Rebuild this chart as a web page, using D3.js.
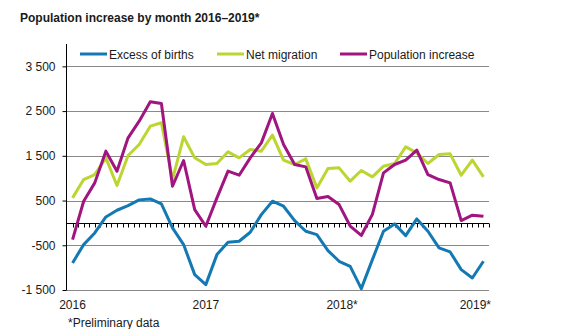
<!DOCTYPE html>
<html>
<head>
<meta charset="utf-8">
<script src="https://cdn.jsdelivr.net/npm/d3@7"></script>
<style>
  body { margin: 0; background: #fff; }
  svg { font-family: "Liberation Sans", Arial, sans-serif; }
</style>
</head>
<body>
<svg id="chart" width="585" height="329"></svg>
<script>
// months Jan 2016 .. Feb 2019
var months = [];
[2016, 2017, 2018, 2019].forEach(function(yr) {
  for (var m = 1; m <= 12; m++) {
    if (yr === 2019 && m > 2) break;
    months.push(yr + 'M' + (m < 10 ? '0' + m : m));
  }
});

var excessOfBirths = [
  -895, -485, -224, 134, 283, 388, 515, 537, 425, -112, -485, -1156,
  -1380, -709, -433, -410, -209, 186, 485, 373, 52, -187, -261, -619,
  -858, -970, -1470, -821, -187, -22, -284, 90, -187, -560, -649, -1044,
  -1231, -858
];
var netMigration = [
  560, 970, 1082, 1455, 836, 1507, 1753, 2163, 2238, 970, 1925, 1455,
  1306, 1328, 1589, 1455, 1641, 1604, 1962, 1403, 1306, 1432, 783, 1216,
  1231, 933, 1171, 1030, 1268, 1328, 1701, 1567, 1328, 1530, 1544, 1067,
  1403, 1030
];
var populationIncrease = [
  -373, 485, 895, 1604, 1157, 1903, 2275, 2708, 2670, 820, 1395, 298,
  -75, 560, 1157, 1067, 1455, 1790, 2447, 1753, 1306, 1253, 545, 590,
  410, -70, -280, 190, 1119, 1306, 1403, 1626, 1082, 970, 895, 52,
  172, 149
];

var yTicks = [-1500, -500, 500, 1500, 2500, 3500];
var yearLabels = [
  { month: '2016M01', label: '2016' },
  { month: '2017M01', label: '2017' },
  { month: '2018M01', label: '2018*' },
  { month: '2019M01', label: '2019*' }
];

var series = [
  { name: 'Excess of births', values: excessOfBirths, color: '#1479b3' },
  { name: 'Net migration', values: netMigration, color: '#bcd531' },
  { name: 'Population increase', values: populationIncrease, color: '#a0157f' }
];

var svg = d3.select('#chart');
var plotLeft = 67, plotRight = 489, plotTop = 44, plotBottom = 290;

var x = d3.scaleBand().domain(months).range([plotLeft, plotRight]);
var bw = x.bandwidth();
var cx = function(m) { return x(m) + bw / 2; };
var y = d3.scaleLinear().domain([-1500, 4000]).range([plotBottom, plotTop]);

var fmt = d3.formatLocale({ decimal: ',', thousands: '\u00a0', grouping: [3], currency: ['', ''], minus: '-' }).format(',d');

// title
svg.append('text')
  .attr('x', 20).attr('y', 22)
  .style('font-size', '12px').style('font-weight', 'bold').style('fill', '#1a1a1a')
  .text('Population increase by month 2016\u20132019*');

// gridlines
svg.append('g').selectAll('line').data(yTicks).enter().append('line')
  .attr('x1', plotLeft).attr('x2', plotRight)
  .attr('y1', function(d) { return Math.round(y(d)) + 0.5; })
  .attr('y2', function(d) { return Math.round(y(d)) + 0.5; })
  .style('stroke', '#8a8a8a').style('stroke-width', 1);

// y axis
var yAxis = d3.axisLeft(y).tickValues(yTicks).tickSize(4).tickFormat(fmt);
var gy = svg.append('g').attr('transform', 'translate(' + (plotLeft - 0.5) + ',0)').call(yAxis);
gy.select('.domain').attr('d', 'M0,' + plotTop + 'V' + (plotBottom + 0.5)).style('stroke', '#000');
gy.selectAll('.tick line').style('stroke', '#000');
gy.selectAll('.tick text').attr('x', -11).style('font-size', '12px').style('fill', '#1a1a1a')
  .style('font-family', '"Liberation Sans", Arial, sans-serif');

// zero line with month ticks
var y0 = Math.round(y(0)) + 0.5;
svg.append('line').attr('x1', plotLeft).attr('x2', plotRight).attr('y1', y0).attr('y2', y0)
  .style('stroke', '#000').style('stroke-width', 1);
var tickPos = [];
months.forEach(function(m) { tickPos.push(x(m) + bw / 2, x(m) + bw); });
svg.append('g').selectAll('line').data(tickPos).enter().append('line')
  .attr('x1', function(d) { return Math.round(d) + 0.5; })
  .attr('x2', function(d) { return Math.round(d) + 0.5; })
  .attr('y1', y0).attr('y2', y0 + 4)
  .style('stroke', '#000');

// year labels
svg.append('g').selectAll('text').data(yearLabels).enter().append('text')
  .attr('x', function(d) { return cx(d.month) + (d.label.length > 4 ? 3 : 0); })
  .attr('y', 309)
  .attr('text-anchor', 'middle')
  .style('font-size', '12px').style('fill', '#1a1a1a')
  .text(function(d) { return d.label; });

// lines
var line = d3.line()
  .x(function(d, i) { return cx(months[i]); })
  .y(function(d) { return y(d); });

svg.append('g').selectAll('path').data(series).enter().append('path')
  .attr('d', function(s) { return line(s.values); })
  .style('fill', 'none')
  .style('stroke', function(s) { return s.color; })
  .style('stroke-width', 3)
  .style('stroke-linejoin', 'round');

// legend
var legendX = [80, 217, 340];
var lg = svg.append('g').selectAll('g').data(series).enter().append('g')
  .attr('transform', function(d, i) { return 'translate(' + legendX[i] + ',54)'; });
lg.append('line').attr('x1', 0).attr('x2', 27).attr('y1', 0).attr('y2', 0)
  .style('stroke', function(d) { return d.color; }).style('stroke-width', 3);
lg.append('text').attr('x', 29).attr('y', 4.5)
  .style('font-size', '12px').style('fill', '#1a1a1a')
  .text(function(d) { return d.name; });

// footnote
svg.append('text').attr('x', 68).attr('y', 327)
  .style('font-size', '12px').style('fill', '#1a1a1a')
  .text('*Preliminary data');
</script>
</body>
</html>
